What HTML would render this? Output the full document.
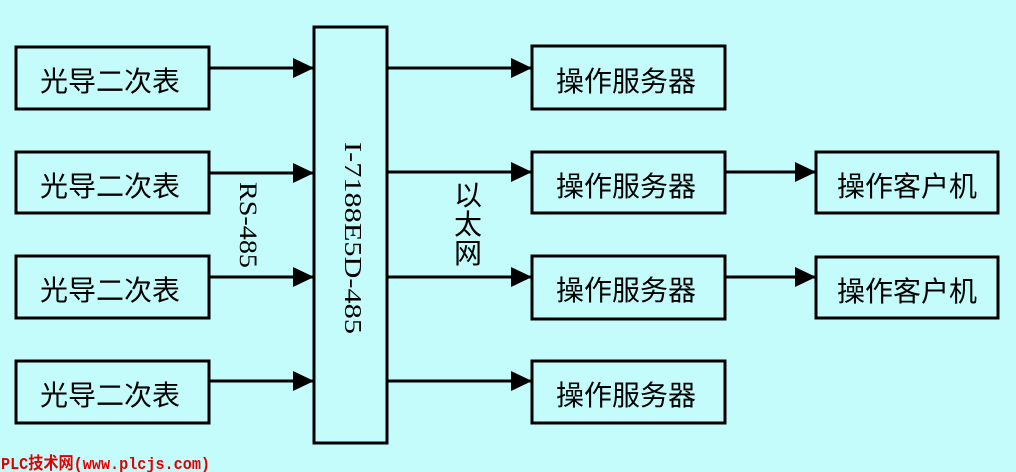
<!DOCTYPE html>
<html><head><meta charset="utf-8"><style>
html,body{margin:0;padding:0;background:#c4fcfc;}
svg{display:block}
.cj{font-family:"Liberation Sans","Noto Sans CJK SC",sans-serif;font-size:28px;fill:#000}
</style></head><body>
<svg width="1016" height="472" viewBox="0 0 1016 472" xmlns="http://www.w3.org/2000/svg">
<rect width="1016" height="472" fill="#c4fcfc"/>
<defs><marker id="a" markerWidth="24" markerHeight="24" refX="21" refY="10" orient="auto" markerUnits="userSpaceOnUse"><path d="M0,0 L21,10 L0,20 Z" fill="#000"/></marker></defs>
<g fill="none" stroke="#000" stroke-width="3">
<rect x="16" y="47" width="193" height="62"/>
<rect x="16" y="152" width="193" height="61"/>
<rect x="16" y="256" width="193" height="62"/>
<rect x="16" y="361" width="193" height="62"/>
<rect x="314" y="27" width="73" height="416"/>
<rect x="532" y="46" width="193" height="63"/>
<rect x="532" y="152" width="193" height="61"/>
<rect x="532" y="256" width="193" height="63"/>
<rect x="532" y="361" width="193" height="62"/>
<rect x="816" y="152" width="182" height="61"/>
<rect x="816" y="257" width="182" height="61"/>
<g marker-end="url(#a)">
<line x1="209" y1="68" x2="314" y2="68"/>
<line x1="209" y1="173" x2="314" y2="173"/>
<line x1="209" y1="277" x2="314" y2="277"/>
<line x1="209" y1="381" x2="314" y2="381"/>
<line x1="387" y1="68" x2="532" y2="68"/>
<line x1="387" y1="172" x2="532" y2="172"/>
<line x1="387" y1="277" x2="532" y2="277"/>
<line x1="387" y1="381" x2="532" y2="381"/>
<line x1="725" y1="172" x2="816" y2="172"/>
<line x1="725" y1="277" x2="816" y2="277"/>
</g></g>
<g class="cj" text-anchor="middle">
<text x="110" y="91">光导二次表</text>
<text x="110" y="196">光导二次表</text>
<text x="110" y="300">光导二次表</text>
<text x="110" y="405">光导二次表</text>
<text x="626" y="91">操作服务器</text>
<text x="626" y="196">操作服务器</text>
<text x="626" y="300">操作服务器</text>
<text x="626" y="405">操作服务器</text>
<text x="907" y="196">操作客户机</text>
<text x="907" y="301">操作客户机</text>
<text x="468" y="205">以</text>
<text x="468" y="234">太</text>
<text x="468" y="263">网</text>
</g>
<text transform="translate(240,225) rotate(90)" text-anchor="middle" font-family="Liberation Serif,serif" font-size="25" textLength="86" lengthAdjust="spacingAndGlyphs">RS-485</text>
<text transform="translate(345,238) rotate(90)" text-anchor="middle" font-family="Liberation Serif,serif" font-size="24" textLength="192" lengthAdjust="spacingAndGlyphs">I-7188E5D-485</text>
<text x="1" y="469" font-family="Liberation Mono,'Noto Sans CJK SC',monospace" font-weight="bold" font-size="17" fill="#e00000" textLength="209" lengthAdjust="spacingAndGlyphs">PLC技术网(www.plcjs.com)</text>
</svg>
</body></html>
